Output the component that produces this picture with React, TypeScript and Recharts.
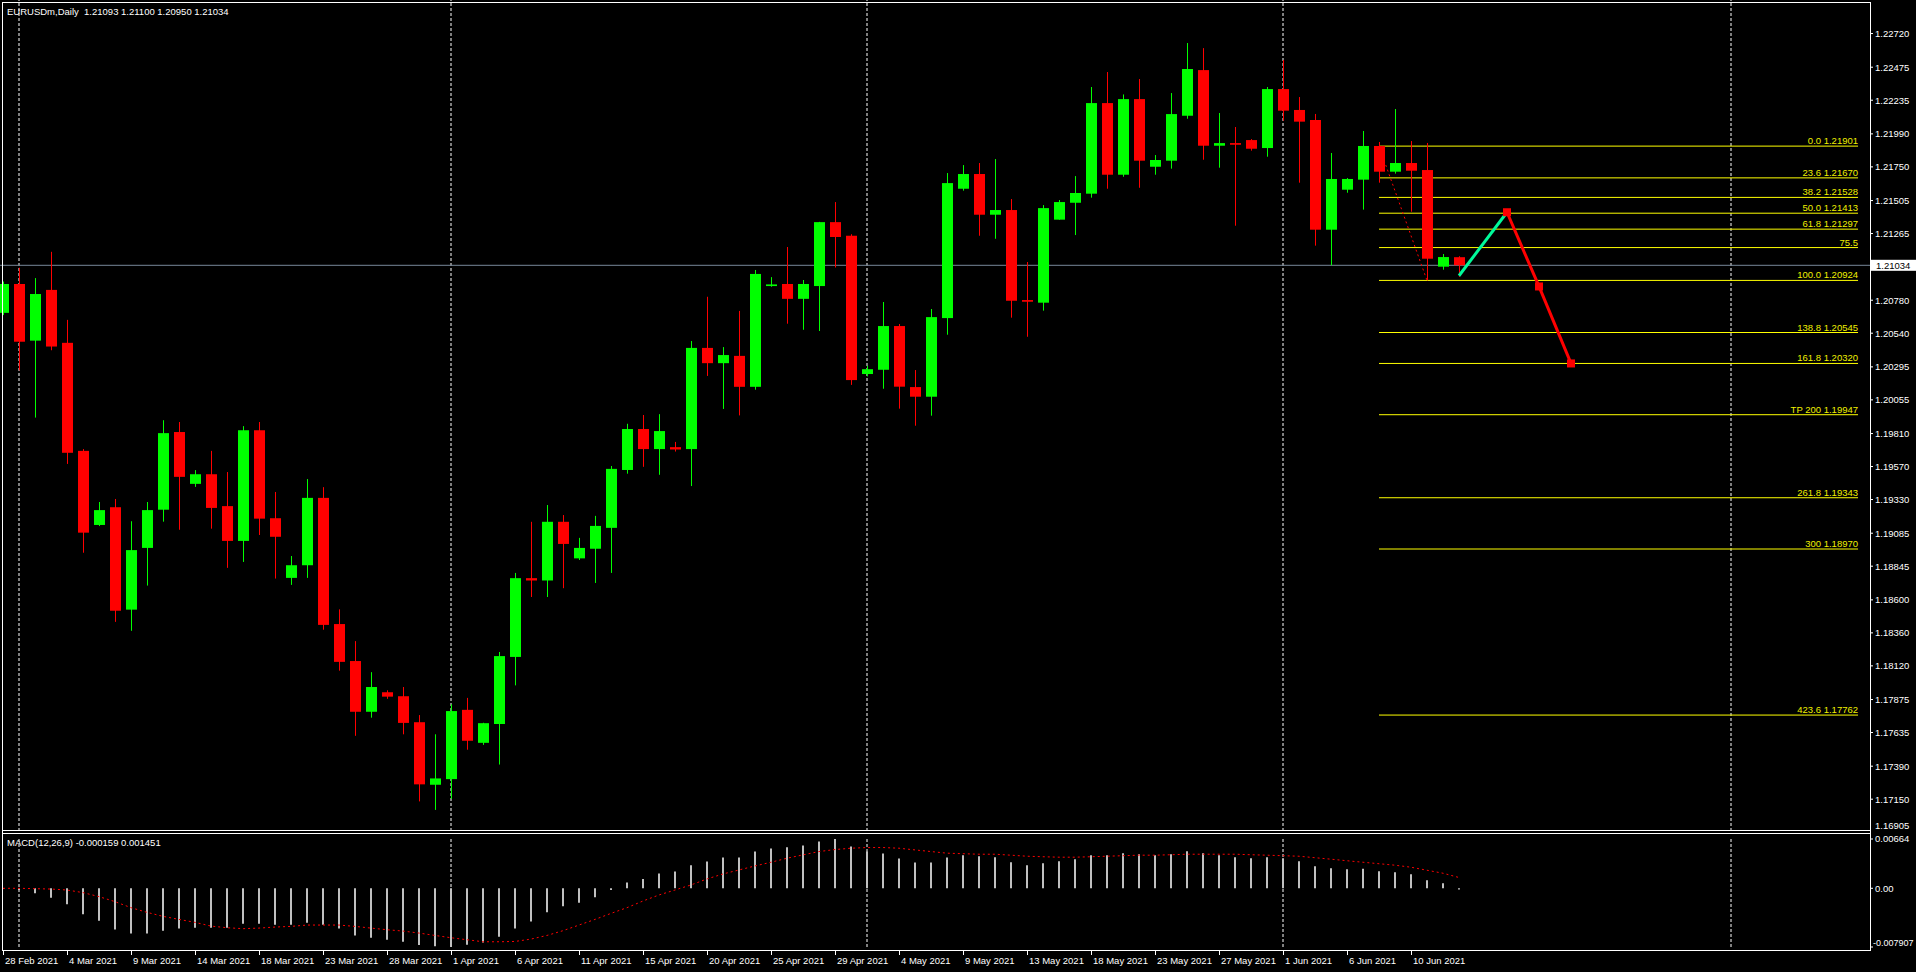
import React from "react";
import { ComposedChart, Bar, Line, XAxis, YAxis, ReferenceLine } from "recharts";

const FONT = "'Liberation Sans', Arial, sans-serif";

// daily candles, 28 Feb 2021 .. 14 Jun 2021 (Sun-Fri bars)
const opens = [
  1.20688, 1.20898, 1.20486, 1.20855, 1.2047, 1.19684, 1.19145, 1.19274, 1.18529, 1.18978,
  1.19256, 1.19821, 1.19444, 1.19514, 1.19282, 1.19029, 1.19834, 1.19194, 1.1876, 1.18852,
  1.19342, 1.18424, 1.18155, 1.17786, 1.17928, 1.17899, 1.1771, 1.17255, 1.17296, 1.178,
  1.1756, 1.17697, 1.18185, 1.18758, 1.18741, 1.19168, 1.18902, 1.18972, 1.19124, 1.19545,
  1.19843, 1.19697, 1.19711, 1.19697, 1.20433, 1.20322, 1.20375, 1.2015, 1.20883, 1.20898,
  1.2079, 1.20883, 1.21348, 1.21249, 1.20243, 1.20274, 1.20592, 1.20148, 1.20078, 1.2065,
  1.21591, 1.21698, 1.21402, 1.21436, 1.20781, 1.20762, 1.21366, 1.21489, 1.21555, 1.22214,
  1.21693, 1.22243, 1.21751, 1.21795, 1.22122, 1.22454, 1.21904, 1.21923, 1.21945, 1.21887,
  1.22316, 1.22164, 1.22091, 1.21293, 1.21584, 1.21657, 1.21902, 1.21715, 1.21778, 1.21727,
  1.21024, 1.21093,
];
const highs = [
  1.20916, 1.21016, 1.20941, 1.21132, 1.20637, 1.19697, 1.19312, 1.19334, 1.19172, 1.19312,
  1.19907, 1.19894, 1.19544, 1.19684, 1.1953, 1.19864, 1.19894, 1.19385, 1.18919, 1.19479,
  1.1942, 1.18531, 1.183, 1.18074, 1.17942, 1.17966, 1.17762, 1.17622, 1.1784, 1.17887,
  1.17706, 1.18221, 1.18796, 1.19168, 1.1929, 1.19217, 1.19051, 1.19211, 1.19574, 1.19881,
  1.19945, 1.19951, 1.19749, 1.20483, 1.20805, 1.20439, 1.20702, 1.21, 1.20948, 1.21167,
  1.20927, 1.2135, 1.21494, 1.2126, 1.20302, 1.20767, 1.20607, 1.20272, 1.20716, 1.21705,
  1.21763, 1.21778, 1.21807, 1.21516, 1.21058, 1.21472, 1.21509, 1.21683, 1.22331, 1.2244,
  1.22277, 1.22389, 1.21836, 1.22287, 1.22651, 1.22614, 1.22142, 1.2204, 1.21952, 1.22331,
  1.22527, 1.22258, 1.22135, 1.21851, 1.21669, 1.22011, 1.21931, 1.22171, 1.21938, 1.21924,
  1.21116, 1.211,
];
const lows = [
  1.20672, 1.2027, 1.19926, 1.20416, 1.19589, 1.18943, 1.19137, 1.1844, 1.18375, 1.18704,
  1.19169, 1.1911, 1.19422, 1.19118, 1.18833, 1.18876, 1.19072, 1.18755, 1.18709, 1.1876,
  1.18383, 1.18085, 1.17611, 1.17743, 1.1788, 1.17622, 1.17134, 1.17072, 1.17153, 1.1751,
  1.17545, 1.17402, 1.17978, 1.18621, 1.18621, 1.18685, 1.1889, 1.18723, 1.18796, 1.19518,
  1.19568, 1.1951, 1.19679, 1.19428, 1.20229, 1.19989, 1.19942, 1.20129, 1.20878, 1.20609,
  1.20565, 1.20556, 1.21018, 1.20164, 1.20226, 1.20136, 1.19991, 1.19867, 1.1994, 1.20529,
  1.21577, 1.21249, 1.21227, 1.20653, 1.20514, 1.20704, 1.21366, 1.21254, 1.21526, 1.21591,
  1.21678, 1.21598, 1.21693, 1.21737, 1.221, 1.21802, 1.21744, 1.21322, 1.21868, 1.21824,
  1.22086, 1.21635, 1.21177, 1.21034, 1.21562, 1.21439, 1.21635, 1.21701, 1.21424, 1.20924,
  1.21002, 1.2095,
];
const closes = [
  1.20898, 1.20478, 1.20825, 1.20443, 1.1967, 1.19089, 1.19253, 1.18521, 1.18962, 1.19253,
  1.19813, 1.19495, 1.19514, 1.19269, 1.19029, 1.19834, 1.19191, 1.19059, 1.18852, 1.19342,
  1.18418, 1.18149, 1.17786, 1.17966, 1.17896, 1.17705, 1.17258, 1.17301, 1.17791, 1.17575,
  1.17703, 1.18191, 1.18758, 1.18741, 1.19168, 1.19007, 1.18978, 1.19138, 1.19553, 1.19843,
  1.19697, 1.19828, 1.19694, 1.20433, 1.20322, 1.20381, 1.2015, 1.20971, 1.20895, 1.2079,
  1.20898, 1.21348, 1.2124, 1.20199, 1.20278, 1.20592, 1.20151, 1.20078, 1.20657, 1.21632,
  1.21698, 1.21402, 1.21436, 1.20776, 1.20769, 1.2145, 1.21494, 1.2156, 1.22214, 1.21693,
  1.22243, 1.21795, 1.218, 1.22134, 1.22462, 1.21904, 1.21923, 1.21911, 1.21882, 1.22316,
  1.22159, 1.22079, 1.21293, 1.21662, 1.21662, 1.21902, 1.21715, 1.21778, 1.21722, 1.21082,
  1.21094, 1.21034,
];

// MACD(12,26,9) histogram (main) and signal
const macdMain = [
  -0.00005, -0.00023, -0.00068, -0.00126, -0.00216, -0.00351, -0.00436, -0.00554, -0.00608, -0.00608,
  -0.00571, -0.0054, -0.00531, -0.00531, -0.00531, -0.00477, -0.00477, -0.0049, -0.0049, -0.00463,
  -0.0049, -0.0054, -0.00635, -0.00666, -0.00693, -0.0072, -0.00765, -0.0078, -0.007907, -0.0076,
  -0.00729, -0.00652, -0.0054, -0.00446, -0.00324, -0.00243, -0.00193, -0.00122, -0.00023, 0.00077,
  0.00126, 0.00198, 0.00225, 0.00311, 0.0036, 0.00414, 0.00414, 0.00495, 0.00536, 0.00554,
  0.00576, 0.0063, 0.00664, 0.00563, 0.00495, 0.00468, 0.004, 0.00347, 0.00347, 0.00414,
  0.00446, 0.00432, 0.00419, 0.00351, 0.00311, 0.00338, 0.00365, 0.00392, 0.00446, 0.00446,
  0.00473, 0.00459, 0.00446, 0.00459, 0.005, 0.00473, 0.00446, 0.00419, 0.00405, 0.00419,
  0.00405, 0.00365, 0.00297, 0.0027, 0.00257, 0.00263, 0.0023, 0.00216, 0.00189, 0.00108,
  0.00068, -0.000159,
];
const macdSignal = [
  0, 0, -0.00005, -0.0001, -0.00023, -0.00058, -0.00112, -0.0018, -0.00261, -0.00324,
  -0.00378, -0.00419, -0.00459, -0.00509, -0.00531, -0.00544, -0.00536, -0.00522, -0.00513, -0.00495,
  -0.00495, -0.00495, -0.00513, -0.00536, -0.00558, -0.00576, -0.00603, -0.00635, -0.00666, -0.00693,
  -0.0072, -0.0072, -0.00716, -0.00684, -0.00635, -0.00571, -0.00495, -0.00419, -0.00338, -0.00261,
  -0.00171, -0.0009, -0.00023, 0.00045, 0.00126, 0.00193, 0.00247, 0.00301, 0.00351, 0.00405,
  0.0045, 0.00495, 0.00522, 0.0054, 0.00549, 0.00549, 0.0054, 0.00517, 0.00495, 0.00473,
  0.00466, 0.00459, 0.00459, 0.00446, 0.00432, 0.00425, 0.00419, 0.00419, 0.00425, 0.00432,
  0.00439, 0.00446, 0.00446, 0.00452, 0.00459, 0.00459, 0.00459, 0.00459, 0.00452, 0.00446,
  0.00439, 0.00432, 0.00412, 0.00392, 0.00371, 0.00351, 0.00331, 0.00311, 0.00284, 0.00243,
  0.00203, 0.001451,
];

const dateTicks = [0, 4, 8, 12, 16, 20, 24, 28, 32, 36, 40, 44, 48, 52, 56, 60, 64, 68, 72, 76, 80, 84, 88];
const dateLabels = [
  "28 Feb 2021", "4 Mar 2021", "9 Mar 2021", "14 Mar 2021", "18 Mar 2021", "23 Mar 2021",
  "28 Mar 2021", "1 Apr 2021", "6 Apr 2021", "11 Apr 2021", "15 Apr 2021", "20 Apr 2021",
  "25 Apr 2021", "29 Apr 2021", "4 May 2021", "9 May 2021", "13 May 2021", "18 May 2021",
  "23 May 2021", "27 May 2021", "1 Jun 2021", "6 Jun 2021", "10 Jun 2021",
];
const priceTicks = [
  1.2272, 1.22475, 1.22235, 1.2199, 1.2175, 1.21505, 1.21265, 1.2078, 1.2054, 1.20295,
  1.20055, 1.1981, 1.1957, 1.1933, 1.19085, 1.18845, 1.186, 1.1836, 1.1812, 1.17875,
  1.17635, 1.1739, 1.1715, 1.16905,
];
const macdTicks = [0.00664, 0, -0.007907];
const macdTickLabels = ["0.00664", "0.00", "-0.007907"];
const separators = [1, 28, 54, 80, 108];

const fibPrices = [1.21901, 1.2167, 1.21528, 1.21413, 1.21297, 1.21163, 1.20924, 1.20545, 1.2032, 1.19947, 1.19343, 1.1897, 1.17762];
const fibLabels = [
  "0.0 1.21901", "23.6 1.21670", "38.2 1.21528", "50.0 1.21413", "61.8 1.21297", "75.5",
  "100.0 1.20924", "138.8 1.20545", "161.8 1.20320", "TP 200 1.19947", "261.8 1.19343",
  "300 1.18970", "423.6 1.17762",
];
const fibFrom = 86;
const fibTo = 115.94;
const fibTrend = [{ i: 86, v: 1.21901 }, { i: 89, v: 1.20924 }];
const projUp = [{ i: 91, v: 1.20958 }, { i: 94, v: 1.2142 }];
const projDown = [{ i: 94, v: 1.2142 }, { i: 96, v: 1.2088 }, { i: 98, v: 1.2032 }];
const lastPrice = 1.21034;

const X0 = -0.1875;
const X1 = 116.6875;
const P0 = 1.169186;
const P1 = 1.22964;
const M0 = -0.007907;
const M1 = 0.00664;

const rows = Array.from({ length: 99 }, (_, i) => {
  const r: any = { i };
  if (i < opens.length) {
    r.o = opens[i];
    r.h = highs[i];
    r.l = lows[i];
    r.c = closes[i];
    r.m = macdMain[i];
    r.s = macdSignal[i];
  }
  const u = projUp.find((p) => p.i === i);
  if (u) r.up = u.v;
  const d = projDown.find((p) => p.i === i);
  if (d) r.dn = d.v;
  return r;
});

const candleRange = (d: any) => (d.o === undefined ? null : [d.l, d.h]);

function Candle(props: any) {
  const { x, y, width, height, payload } = props;
  if (!payload || payload.o === undefined || height == null) return <g />;
  const { o, h, l, c } = payload;
  const col = c >= o ? "#00FF00" : "#FF0000";
  const k = h - l > 0 ? height / (h - l) : 0;
  const top = y + (h - Math.max(o, c)) * k;
  const bh = Math.max(1, Math.abs(o - c) * k);
  const cx = Math.round(x + width / 2) + 0.5;
  return (
    <g>
      <line x1={cx} x2={cx} y1={y} y2={y + height} stroke={col} strokeWidth={1} />
      <rect x={cx - 5.5} y={top} width={11} height={bh} fill={col} />
    </g>
  );
}

function Square(props: any) {
  const { cx, cy, value, index } = props;
  if (value == null || cy == null) return <g key={index} />;
  return <rect key={index} x={cx - 4} y={cy - 4} width={8} height={8} fill="#FF0000" />;
}

function PriceTick(props: any) {
  const { x, y, payload } = props;
  const v = payload.value;
  const shift = v < 1.1695 ? -7 : 0;
  return (
    <text x={x} y={y + shift} dy="0.35em" fill="#fff" fontSize={9.5} fontFamily={FONT}>
      {v.toFixed(5)}
    </text>
  );
}

function MacdTick(props: any) {
  const { x, y, payload } = props;
  const k = macdTicks.indexOf(payload.value);
  const neg = payload.value < 0;
  return (
    <text x={neg ? x - 2 : x} y={neg ? y - 4 : y} dy="0.35em" fill="#fff" fontSize={neg ? 9 : 9.5} fontFamily={FONT}>
      {macdTickLabels[k]}
    </text>
  );
}

function DateTick(props: any) {
  const { x, y, payload } = props;
  const k = dateTicks.indexOf(payload.value);
  return (
    <g>
      <line x1={x + 0.5} x2={x + 0.5} y1={y + 3} y2={y + 8} stroke="#fff" />
      <text x={x + 2} y={y + 17} fill="#fff" fontSize={9.5} fontFamily={FONT}>
        {dateLabels[k]}
      </text>
    </g>
  );
}

function FibLabel(props: any) {
  const { viewBox, text } = props;
  if (!viewBox) return null;
  return (
    <text x={viewBox.x + viewBox.width} y={viewBox.y - 2} textAnchor="end" fill="#F0F000" fontSize={9.5} fontFamily={FONT}>
      {text}
    </text>
  );
}

function PriceBox(props: any) {
  const { viewBox } = props;
  if (!viewBox) return null;
  const x = viewBox.x + viewBox.width + 1;
  return (
    <g>
      <rect x={x} y={viewBox.y - 5.5} width={46} height={11} fill="#fff" />
      <text x={x + 5} y={viewBox.y} dy="0.35em" fill="#000" fontSize={9.5} fontFamily={FONT}>
        {lastPrice.toFixed(5)}
      </text>
    </g>
  );
}

const layer: React.CSSProperties = { position: "absolute", left: 0 };

export default function App() {
  return (
    <div style={{ position: "fixed", left: 0, top: 0, width: 1916, height: 972, background: "#000" }}>
      {/* price pane: background objects (separators, bid line, fibo) */}
      <div style={{ ...layer, top: 0 }}>
        <ComposedChart width={1916} height={831} data={rows} margin={{ top: 0, right: 46, bottom: 0, left: 0 }}>
          <XAxis type="number" dataKey="i" domain={[X0, X1]} allowDataOverflow hide />
          <YAxis domain={[P0, P1]} allowDataOverflow hide />
          {separators.map((s) => (
            <ReferenceLine key={"sep" + s} x={s} stroke="#fff" strokeDasharray="3 2" />
          ))}
          <ReferenceLine y={lastPrice} stroke="#778899" label={<PriceBox />} />
          {fibPrices.map((p, k) => (
            <ReferenceLine
              key={"fib" + k}
              segment={[{ x: fibFrom, y: p }, { x: fibTo, y: p }]}
              stroke="#FFFF00"
              label={<FibLabel text={fibLabels[k]} />}
            />
          ))}
          <ReferenceLine
            segment={[{ x: fibTrend[0].i, y: fibTrend[0].v }, { x: fibTrend[1].i, y: fibTrend[1].v }]}
            stroke="#FF0000"
            strokeDasharray="2 3"
          />
        </ComposedChart>
      </div>
      {/* price pane: candles, axis, projection */}
      <div style={{ ...layer, top: 0 }}>
        <ComposedChart width={1916} height={831} data={rows} margin={{ top: 0, right: 0, bottom: 0, left: 0 }}>
          <XAxis type="number" dataKey="i" domain={[X0, X1]} allowDataOverflow hide />
          <YAxis
            orientation="right"
            width={46}
            domain={[P0, P1]}
            allowDataOverflow
            ticks={priceTicks}
            interval={0}
            axisLine={false}
            tickLine={{ stroke: "#fff" }}
            tickSize={3}
            tickMargin={2}
            tick={<PriceTick />}
          />
          <Bar dataKey={candleRange} barSize={11} shape={<Candle />} isAnimationActive={false} />
          <Line dataKey="up" stroke="#00FA9A" strokeWidth={3} connectNulls dot={false} isAnimationActive={false} />
          <Line dataKey="dn" stroke="#FF0000" strokeWidth={3} connectNulls dot={<Square />} isAnimationActive={false} />
        </ComposedChart>
      </div>
      {/* MACD pane: separators */}
      <div style={{ ...layer, top: 832 }}>
        <ComposedChart width={1916} height={140} data={rows} margin={{ top: 7, right: 46, bottom: 25, left: 0 }}>
          <XAxis type="number" dataKey="i" domain={[X0, X1]} allowDataOverflow hide />
          <YAxis domain={[M0, M1]} allowDataOverflow hide />
          {separators.map((s) => (
            <ReferenceLine key={"msep" + s} x={s} stroke="#fff" strokeDasharray="3 2" />
          ))}
        </ComposedChart>
      </div>
      {/* MACD pane: histogram, signal, axes */}
      <div style={{ ...layer, top: 832 }}>
        <ComposedChart width={1916} height={140} data={rows} margin={{ top: 7, right: 0, bottom: 0, left: 0 }}>
          <XAxis
            type="number"
            dataKey="i"
            domain={[X0, X1]}
            allowDataOverflow
            ticks={dateTicks}
            interval={0}
            axisLine={false}
            tickLine={false}
            tickSize={0}
            tickMargin={0}
            height={25}
            tick={<DateTick />}
          />
          <YAxis
            orientation="right"
            width={46}
            domain={[M0, M1]}
            allowDataOverflow
            ticks={macdTicks}
            interval={0}
            axisLine={false}
            tickLine={{ stroke: "#fff" }}
            tickSize={3}
            tickMargin={2}
            tick={<MacdTick />}
          />
          <Bar dataKey="m" barSize={2} fill="#C0C0C0" isAnimationActive={false} />
          <Line dataKey="s" stroke="#FF0000" strokeWidth={1} strokeDasharray="2 3" dot={false} isAnimationActive={false} />
        </ComposedChart>
      </div>
      <svg width={1916} height={972} style={{ position: "absolute", left: 0, top: 0, pointerEvents: "none" }}>
        <g stroke="#fff" strokeWidth={1}>
          <line x1={2} x2={1871} y1={2.5} y2={2.5} />
          <line x1={2.5} x2={2.5} y1={2} y2={951} />
          <line x1={1870.5} x2={1870.5} y1={2} y2={951} />
          <line x1={2} x2={1871} y1={830.5} y2={830.5} />
          <line x1={2} x2={1871} y1={833.5} y2={833.5} />
          <line x1={2} x2={1871} y1={950.5} y2={950.5} />
        </g>
        <text x={7} y={14.5} fill="#fff" fontSize={9.5} fontFamily={FONT} style={{ whiteSpace: "pre" }}>
          EURUSDm,Daily{"  "}1.21093 1.21100 1.20950 1.21034
        </text>
        <text x={7} y={845.5} fill="#fff" fontSize={9.5} fontFamily={FONT}>
          MACD(12,26,9) -0.000159 0.001451
        </text>
      </svg>
    </div>
  );
}
